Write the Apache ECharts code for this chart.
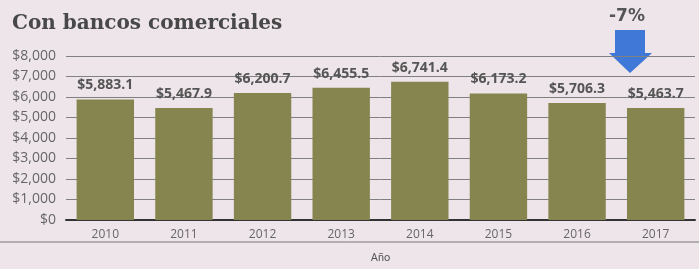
<!DOCTYPE html>
<html>
<head>
<meta charset="utf-8">
<script src="https://cdn.jsdelivr.net/npm/echarts@6/dist/echarts.min.js"></script>
<style>
  html, body { margin: 0; padding: 0; background: #ede5ea; }
  #chart { width: 699px; height: 269px; }
</style>
</head>
<body>
<div id="chart"></div>
<script>
// 年份与数值（百万）
const years = ["2010", "2011", "2012", "2013", "2014", "2015", "2016", "2017"];
const values = [5883.1, 5467.9, 6200.7, 6455.5, 6741.4, 6173.2, 5706.3, 5463.7];
const yTicks = [0, 1000, 2000, 3000, 4000, 5000, 6000, 7000, 8000];
const title = "Con bancos comerciales";
const change = "-7%";

const myChart = echarts.init(document.getElementById("chart"));

const fmt = v => "$" + v.toLocaleString("en-US", { minimumFractionDigits: 1, maximumFractionDigits: 1 });

const option = {
  backgroundColor: "#ede5ea",
  animation: false,
  title: {
    text: title,
    left: 7,
    top: 9,
    textStyle: {
      fontFamily: "DejaVu Serif",
      fontWeight: "bold",
      fontSize: 20,
      color: "#484848",
      textShadowColor: "rgba(0,0,0,0.3)",
      textShadowOffsetX: 1,
      textShadowOffsetY: 1
    }
  },
  grid: { left: 66, right: 4, top: 56, bottom: 45 },
  xAxis: {
    type: "category",
    data: years,
    name: "Año",
    nameLocation: "middle",
    nameGap: 33,
    nameTextStyle: { fontFamily: "Roboto", fontSize: 11, color: "#555" },
    axisLine: { lineStyle: { color: "#333", width: 2 } },
    axisTick: { show: false },
    axisLabel: { fontFamily: "Open Sans", fontSize: 12, color: "#666", margin: 9 }
  },
  yAxis: {
    type: "value",
    min: yTicks[0],
    max: yTicks[yTicks.length - 1],
    interval: 1000,
    axisLine: { show: false },
    axisTick: { show: false },
    axisLabel: {
      fontFamily: "Open Sans",
      fontSize: 14,
      color: "#666",
      margin: 10,
      formatter: v => "$" + v.toLocaleString("en-US")
    },
    splitLine: { lineStyle: { color: "#808080", width: 1 } }
  },
  series: [
    {
      type: "bar",
      data: values,
      barCategoryGap: "27%",
      itemStyle: { color: "#86854f" },
      label: {
        show: true,
        position: "top",
        distance: 7,
        fontFamily: "Open Sans",
        fontWeight: "bold",
        fontSize: 14,
        color: "#555",
        formatter: p => fmt(p.value)
      }
    }
  ],
  graphic: [
    {
      type: "line",
      shape: { x1: 0, y1: 242, x2: 699, y2: 242 },
      style: { stroke: "#777", lineWidth: 1 }
    },
    {
      type: "text",
      left: 609,
      top: 8,
      style: {
        text: change,
        fontFamily: "DejaVu Sans",
        fontWeight: "bold",
        fontSize: 17,
        fill: "#555"
      }
    },
    {
      type: "polygon",
      shape: {
        points: [[615, 30], [645, 30], [645, 53], [652, 53], [630, 73], [609, 53], [615, 53]]
      },
      style: { fill: "#3f78d6" }
    }
  ]
};

myChart.setOption(option);
</script>
</body>
</html>
